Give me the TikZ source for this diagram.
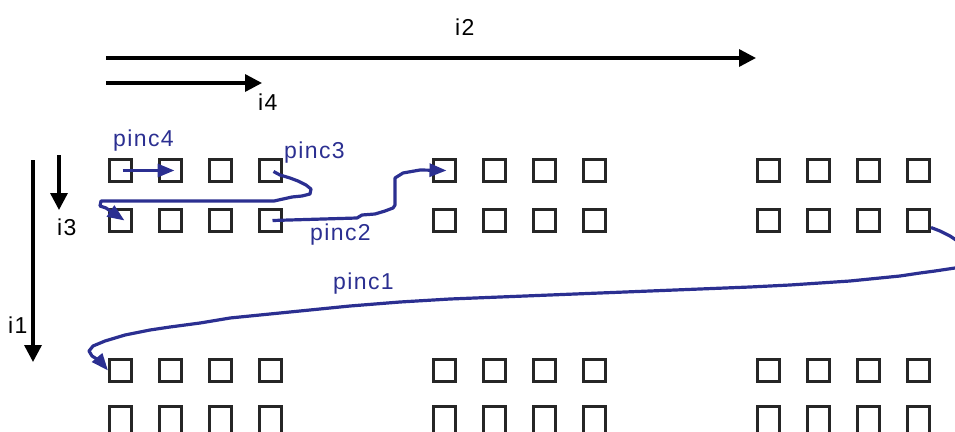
\documentclass[tikz,border=0pt]{standalone}
\usepackage{fontspec}
\setmainfont{Liberation Sans}[LetterSpace=6]
\usetikzlibrary{arrows.meta}
\definecolor{pblue}{RGB}{43,47,145}
\begin{document}
\begin{tikzpicture}[x=1pt,y=-1pt,
  cell/.style={draw=black!85,line width=2.8pt,minimum size=22.2pt,inner sep=0pt},
  opencell/.style={cell,minimum height=60pt},
  axis/.style={line width=3.4pt,-{Triangle[length=17pt,width=17pt]}},
  pline/.style={draw=pblue,line width=3.2pt,line join=round},
  ptip/.style={-{Triangle[length=17pt,width=13pt]}},
  lab/.style={font=\fontsize{23}{23}\selectfont,inner sep=0pt,anchor=base west},
  blab/.style={lab,text=pblue}]
\useasboundingbox (0,0) rectangle (955,431);
\begin{scope}
\clip (0,0) rectangle (955,431);
% squares
\foreach \g/\gx in {1/108,2/432,3/756}{
  \foreach \r/\ry in {1/158,2/208,3/358}{
    \foreach \c in {1,2,3,4}{
      \node[cell] (g\g r\r c\c) at ({\gx+50*(\c-1)+12.5},{\ry+12.5}) {};
    }
  }
  \foreach \c in {1,2,3,4}{
    \node[opencell] (g\g r4c\c) at ({\gx+50*(\c-1)+12.5},{405+31.4}) {};
  }
}
% black axes
\coordinate (i2s) at (106,58); \coordinate (i2e) at (756,58);
\coordinate (i4s) at (106,83); \coordinate (i4e) at (262,83);
\coordinate (i3s) at (59,155); \coordinate (i3e) at (59,210);
\coordinate (i1s) at (33,160); \coordinate (i1e) at (33,362);
\draw[axis] (i2s) -- (i2e);
\draw[axis] (i4s) -- (i4e);
\draw[axis] (i3s) -- (i3e);
\draw[axis] (i1s) -- (i1e);
\node[lab] (li2) at (455,35) {i2};
\node[lab] (li4) at (258,110) {i4};
\node[lab] (li3) at (57,235) {i3};
\node[lab] (li1) at (8,333) {i1};
% blue paths
\draw[pline,ptip] ([xshift=2pt]g1r1c1.center) -- ([xshift=4pt]g1r1c2.center);
\draw[pline,ptip] ([xshift=3pt,yshift=-1pt]g1r1c4.center) -- (280,175) -- (290,178) -- (298,181) -- (306,185)
  -- (311,189) -- (310,194) -- (302,196) -- (292,197) -- (283,199) -- (274,201)
  -- (101,201) -- (100,206) -- (106,208) -- ([xshift=4pt]g1r2c1.center);
\draw[pline,ptip] ([xshift=2pt]g1r2c4.center) -- (357,218) -- (362,215) -- (375,214) -- (385,211)
  -- (393,208) -- (395,205) -- (395,178) -- (403,173) -- (420,170)
  -- ([xshift=2pt]g2r1c1.center);
\coordinate (out) at (962,244);
\coordinate (in) at (962,267);
\draw[pline] ([yshift=-7pt]g3r2c4.east) -- (940,231) -- (950,236) -- (out);
\draw[pline,ptip] (in) -- (955,268) -- (935,271) -- (920,273) -- (900,276) -- (880,278)
  -- (850,281) -- (820,283) -- (790,285) -- (750,287) -- (700,289) -- (650,291)
  -- (600,293) -- (550,295) -- (500,297) -- (450,299) -- (400,302) -- (350,306)
  -- (300,311) -- (260,315) -- (230,318) -- (200,323) -- (170,327) -- (150,330)
  -- (125,335) -- (105,341) -- (93,346) -- (89,351) -- (92,356) -- (100,361)
  -- (g1r3c1.west);
\node[blab] (lp4) at (113,146) {pinc4};
\node[blab] (lp3) at (284,158) {pinc3};
\node[blab] (lp2) at (310,240) {pinc2};
\node[blab] (lp1) at (333,289) {pinc1};
\end{scope}
\end{tikzpicture}
\end{document}
